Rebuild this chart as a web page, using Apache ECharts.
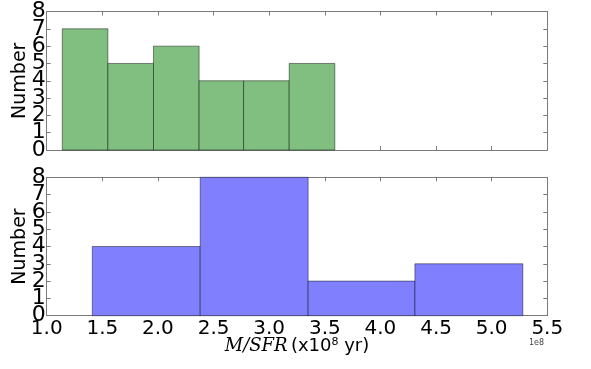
<!DOCTYPE html>
<html>
<head>
<meta charset="utf-8">
<script src="https://cdn.jsdelivr.net/npm/echarts@6/dist/echarts.min.js"></script>
<style>
  html, body { margin: 0; padding: 0; background: #fff; }
  #main { width: 591px; height: 369px; }
</style>
</head>
<body>
<div id="main"></div>
<script>
// bin edges (x1e8 yr) and counts
var topEdges = [1.14, 1.55, 1.96, 2.37, 2.77, 3.18, 3.59]
var topCounts = [7, 5, 6, 4, 4, 5]
var botEdges = [1.41, 2.38, 3.35, 4.31, 5.28]
var botCounts = [4, 8, 2, 3]
var xTicks = [1.0, 1.5, 2.0, 2.5, 3.0, 3.5, 4.0, 4.5, 5.0, 5.5]
var yTicks = [0, 1, 2, 3, 4, 5, 6, 7, 8]

var FONT = "DejaVu Sans"
var SPINE = "#7a7a7a"

function bins(edges, counts) {
  var out = []
  for (var i = 0; i < counts.length; i++) {
    out.push([edges[i], edges[i + 1], counts[i]])
  }
  return out
}

function histItem(params, api) {
  var p0 = api.coord([api.value(0), api.value(2)])
  var p1 = api.coord([api.value(1), 0])
  return {
    type: "rect",
    shape: { x: p0[0], y: p0[1], width: p1[0] - p0[0], height: p1[1] - p0[1] },
    style: api.style()
  }
}

// main + mirror axes so ticks point inward on all four sides
function xAxis(grid, pos, labels) {
  return {
    type: "value", gridIndex: grid, position: pos,
    min: xTicks[0], max: xTicks[xTicks.length - 1], interval: 0.5,
    axisLine: { show: true, onZero: false, lineStyle: { color: SPINE, width: 1 } },
    axisTick: { show: true, inside: true, length: 4, lineStyle: { color: SPINE } },
    axisLabel: {
      show: labels, margin: 3, fontFamily: FONT, fontSize: 20, color: "#000",
      formatter: function (v) { return v.toFixed(1) }
    },
    splitLine: { show: false }
  }
}

// the big tick labels overlap, so even and odd ones sit on two stacked axes
function yAxis(grid, pos, labelVals, withLine) {
  return {
    type: "value", gridIndex: grid, position: pos,
    min: yTicks[0], max: yTicks[yTicks.length - 1], interval: 1,
    axisLine: { show: withLine, lineStyle: { color: SPINE, width: 1 } },
    axisTick: { show: withLine, inside: true, length: 4, lineStyle: { color: SPINE } },
    axisLabel: {
      show: labelVals.length > 0, margin: 1, customValues: labelVals,
      fontFamily: FONT, fontSize: 22, color: "#000"
    },
    splitLine: { show: false }
  }
}

var evenTicks = yTicks.filter(function (v) { return v % 2 === 0 })
var oddTicks = yTicks.filter(function (v) { return v % 2 === 1 })

var yA = []
for (var g = 0; g < 2; g++) {
  var main = yAxis(g, "left", evenTicks, true)
  main.name = "Number"
  main.nameLocation = "middle"
  main.nameRotate = 90
  main.nameGap = 17
  main.nameMoveOverlap = false
  main.nameTextStyle = { fontFamily: FONT, fontSize: 19, color: "#000" }
  yA.push(main, yAxis(g, "left", oddTicks, false), yAxis(g, "right", [], true))
}

var chart = echarts.init(document.getElementById("main"))

var xA = [xAxis(0, "bottom", false), xAxis(0, "top", false), xAxis(1, "bottom", true), xAxis(1, "top", false)]
xA[2].name = "{m|M/SFR} {n|(x10}{s|8}{n| yr)}"
xA[2].nameLocation = "middle"
xA[2].nameGap = 21
xA[2].nameMoveOverlap = false
xA[2].nameTextStyle = {
  rich: {
    m: { fontFamily: "DejaVu Serif", fontStyle: "italic", fontSize: 18, color: "#000" },
    n: { fontFamily: FONT, fontSize: 18, color: "#000" },
    s: { fontFamily: FONT, fontSize: 11, color: "#000", verticalAlign: "top", padding: [0, 0, 8, 0] }
  }
}

var option = {
  animation: false,
  backgroundColor: "#fff",
  grid: [
    { left: 46.7, top: 11.5, width: 500.6, height: 138.5, containLabel: false, outerBoundsMode: "none" },
    { left: 46.7, top: 177.3, width: 500.6, height: 138.4, containLabel: false, outerBoundsMode: "none" }
  ],
  xAxis: xA,
  yAxis: yA,
  series: [
    {
      type: "custom", xAxisIndex: 0, yAxisIndex: 0,
      renderItem: histItem,
      encode: { x: [0, 1], y: 2 },
      itemStyle: { color: "#80bf80", borderColor: "rgba(0,0,0,0.45)", borderWidth: 1 },
      data: bins(topEdges, topCounts)
    },
    {
      type: "custom", xAxisIndex: 2, yAxisIndex: 3,
      renderItem: histItem,
      encode: { x: [0, 1], y: 2 },
      itemStyle: { color: "#8080ff", borderColor: "rgba(0,0,0,0.45)", borderWidth: 1 },
      data: bins(botEdges, botCounts)
    }
  ],
  graphic: [
    {
      type: "text", right: 47, top: 339,
      style: { text: "1e8", fontFamily: FONT, fontSize: 8, fill: "#444" }
    }
  ]
}

chart.setOption(option)
</script>
</body>
</html>
